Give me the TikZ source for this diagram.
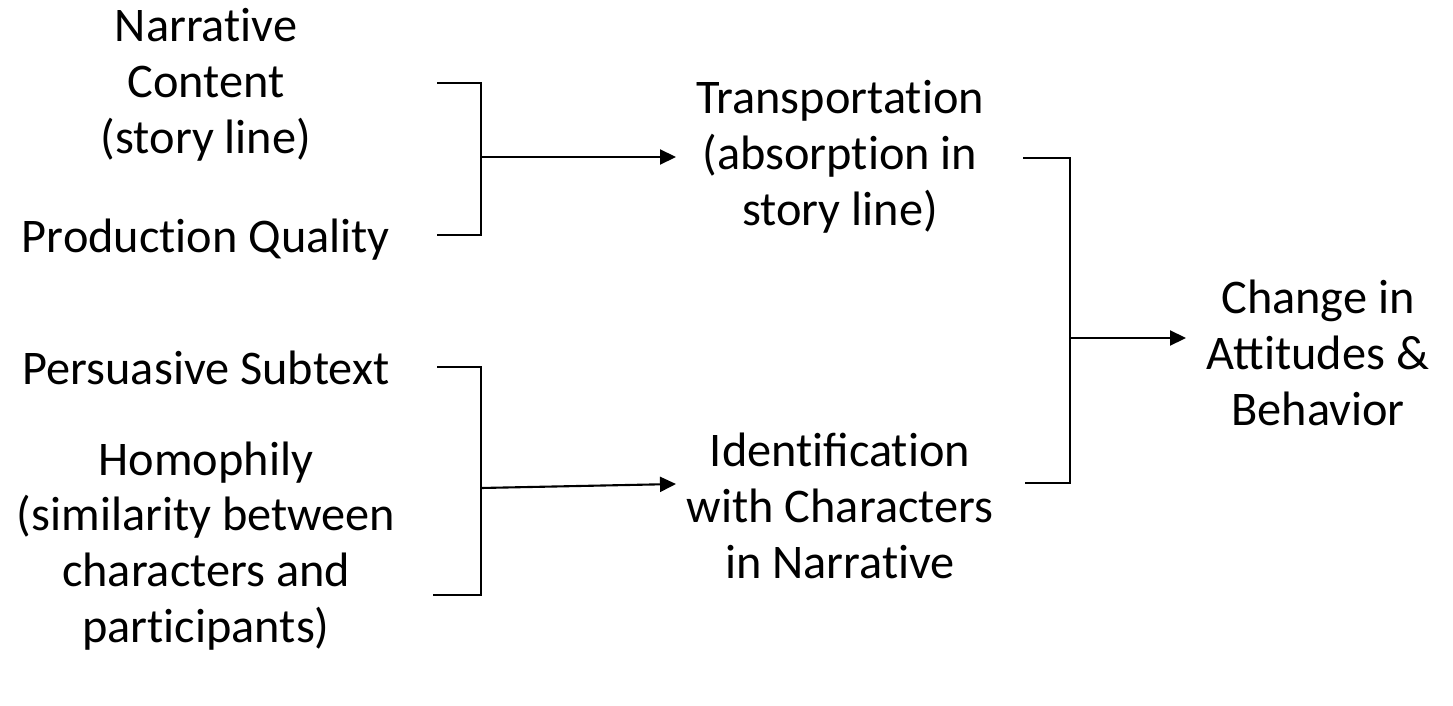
\documentclass[tikz,border=0pt]{standalone}
\usepackage{fontspec}
\setmainfont{Carlito}
% keep t and i apart (no ti ligature)
\newXeTeXintercharclass\tcls
\newXeTeXintercharclass\icls
\XeTeXcharclass`t=\tcls
\XeTeXcharclass`i=\icls
\XeTeXinterchartoks\tcls\icls={\kern0pt }
\XeTeXinterchartokenstate=1
\usepackage{tikz}
\usetikzlibrary{arrows.meta,calc,positioning}

\begin{document}
\begin{tikzpicture}[x=0.02cm,y=-0.02cm,
  txt/.style={align=center,inner sep=0pt,font=\fontsize{27.5}{31.8}\selectfont},
  brace/.style={line width=0.8pt},
  arr/.style={line width=1.2pt,-{Triangle[length=0.32cm,width=0.3cm]}}]
\useasboundingbox (0,0) rectangle (1453,706);
% source factors
\node[txt] (narr) at (206,85) {Narrative\\Content\\(story line)};
\node[txt] (prod) at (206,240) {Production Quality};
\node[txt] (pers) at (206,368) {Persuasive Subtext};
\node[txt] (homo) at (206,546) {Homophily\\(similarity between\\characters and\\participants)};
% mediators
\node[txt] (trans) at (840,157) {Transportation\\(absorption in\\story line)};
\node[txt] (ident) at (840,506) {Identification\\with Characters\\in Narrative};
% outcome
\node[txt] (chg) at (1318,353) {Change in\\Attitudes \&\\Behavior};
% brackets
\coordinate (b1t) at (481,83);  \coordinate (b1b) at (481,235);
\coordinate (b2t) at (481,367); \coordinate (b2b) at (481,595);
\coordinate (b3t) at (1070,158); \coordinate (b3b) at (1070,483);
\draw[brace] (437,83) -- (b1t) -- (b1b) -- (437,235);
\draw[brace] (437,367) -- (b2t) -- (b2b) -- (433,595);
\draw[brace] (1023,158) -- (b3t) -- (b3b) -- (1025,483);
\coordinate (m1) at (481,157);
\coordinate (m2) at (481,488);
\coordinate (m3) at (1070,338);
\draw[arr] (m1) -- (676,157);
\draw[arr] (m2) -- (676,484);
\draw[arr] (m3) -- (1186,338);
\end{tikzpicture}
\end{document}
